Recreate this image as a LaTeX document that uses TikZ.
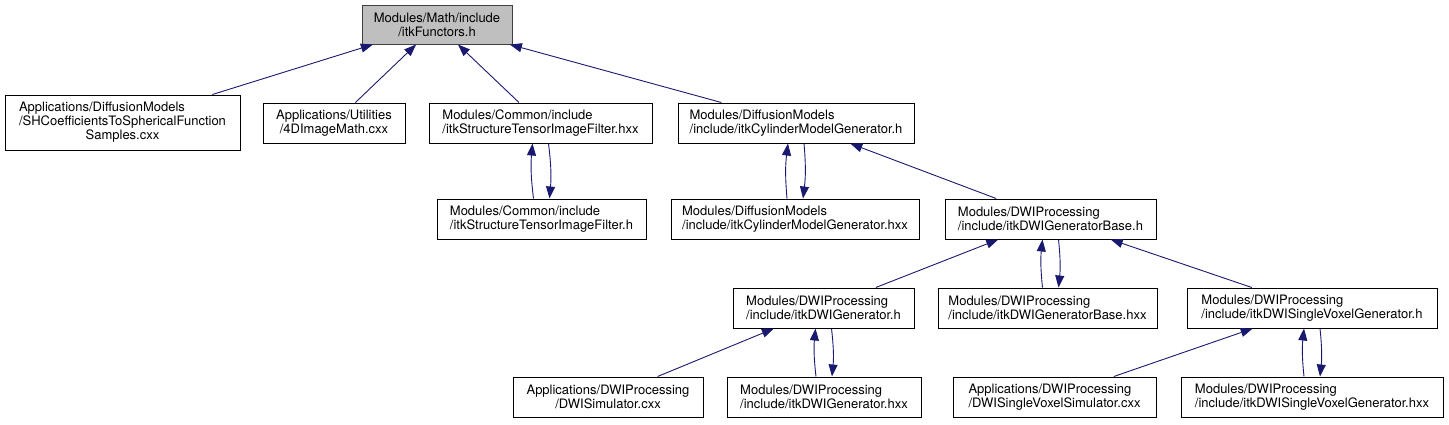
\documentclass[tikz,border=0pt]{standalone}
\usepackage{fontspec}
\setmainfont{TeX Gyre Heros}
\usetikzlibrary{arrows.meta,calc}
\definecolor{incblue}{RGB}{25,25,112}
\definecolor{rootgray}{RGB}{191,191,191}
\definecolor{rootline}{RGB}{64,64,64}

\begin{document}
\begin{tikzpicture}[x=1pt,y=-1pt,>={Triangle[length=12pt,width=9pt]},
    font=\fontsize{13}{14}\selectfont,
    file/.style={draw,line width=1pt,minimum height=40pt,inner sep=0pt,align=left},
    inc/.style={->,incblue,line width=0.9pt}]
  \useasboundingbox (0,0) rectangle (1449,424);
  % rank 0
  \node[file,fill=rootgray,draw=rootline,align=center,minimum width=150pt,minimum height=39pt] (functors) at (437,24.5) {Modules/Math/include\\/itkFunctors.h};
  % rank 1
  \node[file,minimum width=235pt,minimum height=55pt] (shsamples) at (122.5,122.5) {\begin{tabular}{@{}l@{}}Applications/DiffusionModels\\/SHCoefficientsToSphericalFunction\\\multicolumn{1}{@{}c@{}}{Samples.cxx}\end{tabular}};
  \node[file,align=center,minimum width=142pt] (imagemath) at (334,123) {Applications/Utilities\\/4DImageMath.cxx};
  \node[file,minimum width=223pt] (tensorhxx) at (540.5,123) {Modules/Common/include\\/itkStructureTensorImageFilter.hxx};
  \node[file,minimum width=236pt] (cylinderh) at (796,123) {Modules/DiffusionModels\\/include/itkCylinderModelGenerator.h};
  % rank 2
  \node[file,minimum width=209pt] (tensorh) at (541.5,219) {Modules/Common/include\\/itkStructureTensorImageFilter.h};
  \node[file,minimum width=248pt] (cylinderhxx) at (795,219) {Modules/DiffusionModels\\/include/itkCylinderModelGenerator.hxx};
  \node[file,minimum width=211pt] (genbaseh) at (1050.5,219) {Modules/DWIProcessing\\/include/itkDWIGeneratorBase.h};
  % rank 3
  \node[file,minimum width=181pt] (genh) at (823.5,308) {Modules/DWIProcessing\\/include/itkDWIGenerator.h};
  \node[file,minimum width=219pt] (genbasehxx) at (1047.5,308) {Modules/DWIProcessing\\/include/itkDWIGeneratorBase.hxx};
  \node[file,minimum width=250pt] (svgenh) at (1312,308) {Modules/DWIProcessing\\/include/itkDWISingleVoxelGenerator.h};
  % rank 4
  \node[file,align=center,minimum width=190pt] (simcxx) at (608,397) {Applications/DWIProcessing\\/DWISimulator.cxx};
  \node[file,minimum width=194pt] (genhxx) at (824,397) {Modules/DWIProcessing\\/include/itkDWIGenerator.hxx};
  \node[file,minimum width=203pt] (svsimcxx) at (1054.5,397) {Applications/DWIProcessing\\/DWISingleVoxelSimulator.cxx};
  \node[file,minimum width=262pt] (svgenhxx) at (1312,397) {Modules/DWIProcessing\\/include/itkDWISingleVoxelGenerator.hxx};

  % includes
  \draw[inc] (shsamples) -- (functors);
  \draw[inc] (imagemath) -- (functors);
  \draw[inc] (tensorhxx) -- (functors);
  \draw[inc] (cylinderh) -- (functors);
  \draw[inc] (genbaseh) -- (cylinderh);
  \draw[inc] (genh) -- (genbaseh);
  \draw[inc] (svgenh) -- (genbaseh);
  \draw[inc] (simcxx) -- (genh);
  \draw[inc] (svsimcxx) -- (svgenh);
  % header <-> implementation pairs
  \draw[inc] ([xshift=-8pt]tensorh.north) to[bend left=6] ([xshift=-8pt]tensorhxx.south);
  \draw[inc] ([xshift=8pt]tensorhxx.south) to[bend left=6] ([xshift=8pt]tensorh.north);
  \draw[inc] ([xshift=-8pt]cylinderhxx.north) to[bend left=6] ([xshift=-8pt]cylinderh.south);
  \draw[inc] ([xshift=8pt]cylinderh.south) to[bend left=6] ([xshift=8pt]cylinderhxx.north);
  \draw[inc] ($(genbaseh.south |- genbasehxx.north)+(-8,0)$) to[bend left=6] ($(genbaseh.south)+(-8,0)$);
  \draw[inc] ($(genbaseh.south)+(8,0)$) to[bend left=6] ($(genbaseh.south |- genbasehxx.north)+(8,0)$);
  \draw[inc] ([xshift=-8pt]genhxx.north) to[bend left=6] ([xshift=-8pt]genh.south);
  \draw[inc] ([xshift=8pt]genh.south) to[bend left=6] ([xshift=8pt]genhxx.north);
  \draw[inc] ([xshift=-8pt]svgenhxx.north) to[bend left=6] ([xshift=-8pt]svgenh.south);
  \draw[inc] ([xshift=8pt]svgenh.south) to[bend left=6] ([xshift=8pt]svgenhxx.north);
\end{tikzpicture}
\end{document}
